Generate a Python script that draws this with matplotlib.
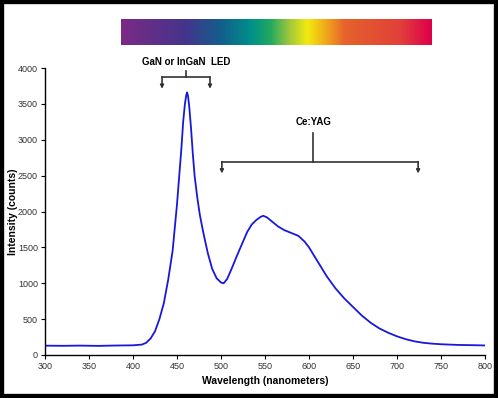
import numpy as np
import matplotlib
matplotlib.use("Agg")
import matplotlib.pyplot as plt
from matplotlib.colors import LinearSegmentedColormap
from matplotlib.patches import Rectangle

plt.rcParams['font.family'] = ['Liberation Sans', 'DejaVu Sans']

wavelength = [300, 320, 340, 360, 380, 400, 410, 415, 420, 425, 430, 435, 440, 445,
              450, 455, 457, 459, 460.5, 461.5, 462.5, 464, 466, 468, 470, 473, 476, 480,
              485, 490, 495, 500, 503, 507, 512, 518, 525, 530, 535, 540, 545, 548, 552,
              558, 565, 572, 580, 588, 595, 600, 610, 620, 630, 640, 650, 660, 670, 680,
              690, 700, 710, 720, 730, 740, 750, 760, 770, 780, 790, 800]
intensity = [130, 128, 131, 127, 132, 135, 145, 170, 230, 330, 500, 720, 1050, 1450,
             2100, 2880, 3250, 3500, 3620, 3660, 3610, 3450, 3150, 2800, 2500, 2200, 1950, 1700,
             1420, 1200, 1070, 1010, 1000, 1060, 1200, 1380, 1580, 1720, 1820, 1880, 1925, 1940, 1920,
             1860, 1790, 1740, 1700, 1660, 1580, 1500, 1300, 1100, 930, 790, 670, 550, 450, 370,
             310, 260, 220, 190, 170, 158, 150, 145, 140, 138, 136, 133]

x_ticks = list(range(300, 801, 50))
y_ticks = list(range(0, 4001, 500))

spectrum_colors = [(0.0, '#7B2A85'), (0.21, '#43358C'), (0.32, '#135E8C'),
                   (0.42, '#00918A'), (0.48, '#20A860'), (0.545, '#A5C93A'),
                   (0.60, '#F2EA10'), (0.665, '#EFA21C'), (0.72, '#E6622C'),
                   (0.90, '#E0403A'), (1.0, '#E0004A')]

fig = plt.figure(figsize=(4.98, 3.98), dpi=100)
ax = fig.add_axes([45/498, 43/398, 440/498, 287/398])
ax.plot(wavelength, intensity, color='#1818DC', lw=1.3)
ax.set_xlim(300, 800)
ax.set_ylim(0, 4000)
ax.set_xticks(x_ticks)
ax.set_yticks(y_ticks)
ax.tick_params(labelsize=6.5, length=3, width=0.8, colors='black', labelcolor='#333333', pad=2)
for s in ['top', 'right']:
    ax.spines[s].set_visible(False)
for s in ['left', 'bottom']:
    ax.spines[s].set_linewidth(1.0)
ax.set_xlabel('Wavelength (nanometers)', fontsize=7.5, fontweight='bold', labelpad=4)
ax.set_ylabel('Intensity (counts)', fontsize=7.5, fontweight='bold')
ax.yaxis.set_label_coords(-0.062, 0.5)

bc = '#333333'
# GaN bracket
ax.text(460, 4080, 'GaN or InGaN  LED', ha='center', va='center', fontsize=7,
        fontweight='bold', clip_on=False)
ax.plot([460, 460], [3960, 3870], color=bc, lw=1.2, clip_on=False)
ax.plot([433, 487.5], [3870, 3870], color=bc, lw=1.2, clip_on=False)
for xv in [433, 487.5]:
    ax.annotate('', xy=(xv, 3710), xytext=(xv, 3875),
                arrowprops=dict(arrowstyle='-|>', color=bc, lw=1.2, mutation_scale=5,
                                shrinkA=0, shrinkB=0), annotation_clip=False)
# Ce:YAG bracket
ax.text(605, 3250, 'Ce:YAG', ha='center', va='center', fontsize=7, fontweight='bold')
ax.plot([605, 605], [3090, 2690], color=bc, lw=1.2)
ax.plot([501, 724], [2690, 2690], color=bc, lw=1.2)
for xv in [501, 724]:
    ax.annotate('', xy=(xv, 2530), xytext=(xv, 2695),
                arrowprops=dict(arrowstyle='-|>', color=bc, lw=1.2, mutation_scale=5,
                                shrinkA=0, shrinkB=0))

# spectrum bar
cmap = LinearSegmentedColormap.from_list('spec', spectrum_colors)
cax = fig.add_axes([121/498, 353/398, 310/498, 26/398])
cax.imshow(np.linspace(0, 1, 512)[None, :], aspect='auto', cmap=cmap)
cax.axis('off')

fig.patches.append(Rectangle((0, 0), 1, 1, transform=fig.transFigure, fill=False,
                             edgecolor='black', lw=6))
fig.savefig('out.png', dpi=100)
